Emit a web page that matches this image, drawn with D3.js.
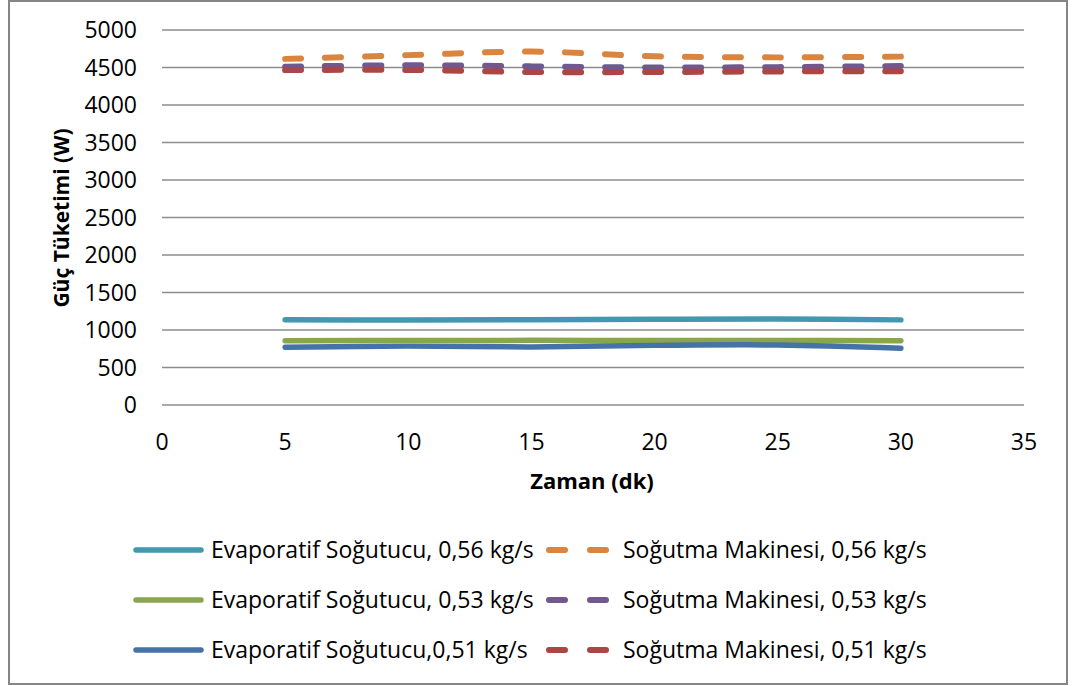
<!DOCTYPE html>
<html><head><meta charset="utf-8">
<script src="https://cdn.jsdelivr.net/npm/d3@7"></script>
<style>body{margin:0;background:#fff}svg{display:block}text{font-family:"Open Sans",sans-serif;fill:#000}</style>
</head><body><svg id="c" width="1075" height="686"></svg>
<script>
const times = [5, 10, 15, 20, 25, 30];
const evap056 = [1137, 1133, 1137, 1143, 1147, 1135];
const evap053 = [857, 860, 862, 860, 860, 857];
const evap051 = [770, 785, 775, 795, 800, 758];
const sog056 = [4615, 4665, 4712, 4650, 4635, 4645];
const sog053 = [4510, 4530, 4515, 4500, 4505, 4520];
const sog051 = [4465, 4468, 4440, 4440, 4448, 4450];
const xTicks = [0, 5, 10, 15, 20, 25, 30, 35];
const yTicks = [0, 500, 1000, 1500, 2000, 2500, 3000, 3500, 4000, 4500, 5000];
const seriesNames = ["Evaporatif Soğutucu, 0,56 kg/s","Soğutma Makinesi, 0,56 kg/s","Evaporatif Soğutucu, 0,53 kg/s","Soğutma Makinesi, 0,53 kg/s","Evaporatif Soğutucu,0,51 kg/s","Soğutma Makinesi, 0,51 kg/s"];
const seriesVals = [evap056, sog056, evap053, sog053, evap051, sog051];
const colors = ["#4198AF","#DB843D","#89A54E","#71588F","#4572A7","#AA4643"];
const dashed = [false,true,false,true,false,true];

const svg = d3.select("#c");
svg.append("rect").attr("x",9).attr("y",1).attr("width",1058).attr("height",683)
  .attr("fill","#fff").attr("stroke","#868686").attr("stroke-width",2);

const x = d3.scaleLinear().domain([0,35]).range([162,1024]);
const y = d3.scaleLinear().domain([0,5000]).range([405,30]);

svg.append("g").selectAll("line").data(yTicks).join("line")
  .attr("x1",162).attr("x2",1024).attr("y1",d=>y(d)).attr("y2",d=>y(d))
  .attr("stroke","#8c8c8c").attr("stroke-width",1.5);

svg.append("g").selectAll("text").data(yTicks).join("text")
  .attr("x",137).attr("y",d=>y(d)).attr("dy","0.35em").attr("text-anchor","end")
  .attr("font-size",23).text(d=>d);
svg.append("g").selectAll("text").data(xTicks).join("text")
  .attr("x",d=>x(d)).attr("y",442).attr("dy","0.35em").attr("text-anchor","middle")
  .attr("font-size",23).text(d=>d);

svg.append("text").attr("transform","translate(62,218) rotate(-90)").attr("text-anchor","middle")
  .attr("dy","0.35em").attr("font-size",21).attr("font-weight","bold").text("Güç Tüketimi (W)");
svg.append("text").attr("x",592).attr("y",481).attr("text-anchor","middle").attr("dy","0.35em")
  .attr("font-size",22).attr("font-weight","bold").text("Zaman (dk)");

const line = d3.line().x(d=>x(d[0])).y(d=>y(d[1])).curve(d3.curveCatmullRom.alpha(0.5));
seriesVals.forEach((vals,i)=>{
  svg.append("path").datum(times.map((t,j)=>[t,vals[j]])).attr("d",line)
    .attr("fill","none").attr("stroke",colors[i]).attr("stroke-width",dashed[i]?6:5.5)
    .attr("stroke-linecap","round")
    .attr("stroke-dasharray",dashed[i]?"16,24":null);
});

// legend
const legRows = [550, 600, 650];
seriesNames.forEach((name,i)=>{
  const row = Math.floor(i/2), col = i%2;
  const ly = legRows[row];
  const g = svg.append("g");
  if (col===0) {
    g.append("line").attr("x1",136).attr("x2",201).attr("y1",ly).attr("y2",ly)
      .attr("stroke",colors[i]).attr("stroke-width",5.5).attr("stroke-linecap","round");
    g.append("text").attr("x",211).attr("y",ly).attr("dy","0.35em").attr("font-size",23).text(name);
  } else {
    g.append("line").attr("x1",549).attr("x2",606).attr("y1",ly).attr("y2",ly)
      .attr("stroke",colors[i]).attr("stroke-width",6).attr("stroke-linecap","round")
      .attr("stroke-dasharray","16,25");
    g.append("text").attr("x",623).attr("y",ly).attr("dy","0.35em").attr("font-size",23).text(name);
  }
});
</script></body></html>
